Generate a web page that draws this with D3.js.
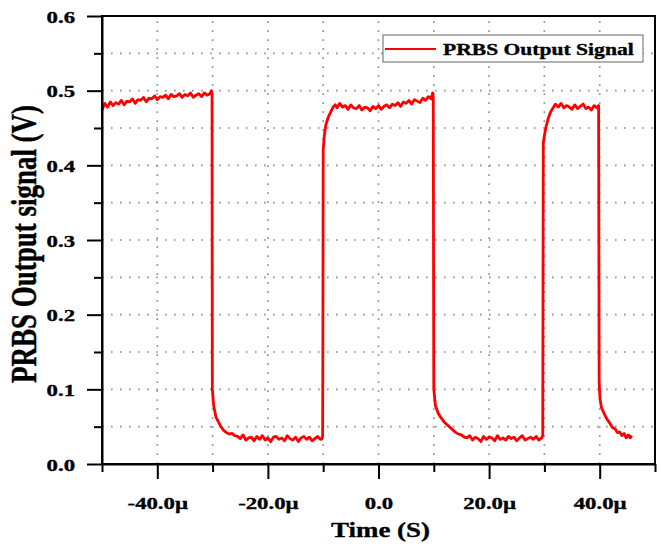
<!DOCTYPE html>
<html>
<head>
<meta charset="utf-8">
<script src="https://cdn.jsdelivr.net/npm/d3@7"></script>
<style>
  body { margin: 0; background: #fff; }
  svg { display: block; }
  text { font-family: "Liberation Serif", "Times New Roman", serif; font-weight: bold; fill: #000; stroke: #000; stroke-width: 0.35px; }
</style>
</head>
<body>
<div id="chart"></div>
<script>
// time in microseconds, signal in volts
var timeUs = [
  -50, -49.5, -49, -48.5, -48, -47.5, -47, -46.5, -46, -45.5, -45, -44.5, -44, -43.5, -43, -42.5, -42, -41.5, -41, -40.5,
  -40, -39.5, -39, -38.5, -38, -37.5, -37, -36.5, -36, -35.5, -35, -34.5, -34, -33.5, -33, -32.5, -32, -31.5, -31, -30.5,
  -30.2, -30.1, -30.05, -29.8, -29.4, -29, -28.5, -28, -27.5, -27, -26.5, -26,
  -25.5, -25, -24.5, -24, -23.5, -23, -22.5, -22, -21.5, -21, -20.5, -20, -19.5, -19, -18.5, -18, -17.5, -17, -16.5, -16,
  -15.5, -15, -14.5, -14, -13.5, -13, -12.5, -12, -11.5, -11, -10.5, -10.2, -10.1,
  -10.05, -10, -9.8, -9.5, -9, -8.6, -8.2, -7.8, -7.5,
  -7, -6.5, -6, -5.5, -5, -4.5, -4, -3.5, -3, -2.5, -2, -1.5, -1, -0.5, 0, 0.5, 1, 1.5, 2, 2.5,
  3, 3.5, 4, 4.5, 5, 5.5, 6, 6.5, 7, 7.5, 8, 8.5, 9, 9.5, 9.8, 9.9,
  10, 10.3, 10.8, 11.3, 11.8, 12.2, 12.8, 13.4, 14, 14.5, 15, 15.5,
  16, 16.5, 17, 17.5, 18, 18.5, 19, 19.5, 20, 20.5, 21, 21.5, 22, 22.5, 23, 23.5, 24, 24.5, 25, 25.5,
  26, 26.5, 27, 27.5, 28, 28.5, 29, 29.5, 29.7,
  29.8, 30, 30.3, 30.7, 31.1, 31.5, 32, 32.5,
  33, 33.5, 34, 34.5, 35, 35.5, 36, 36.5, 37, 37.5, 38, 38.5, 39, 39.5, 39.8,
  39.9, 40.05, 40.3, 40.9, 41.4, 41.8, 42.3, 42.8, 43.2, 43.6, 44, 44.4, 44.8, 45.2, 45.5, 45.8
];
var signalV = [
  0.474, 0.483, 0.478, 0.485, 0.480, 0.484, 0.482, 0.487, 0.481, 0.486, 0.485, 0.489, 0.483, 0.488, 0.487, 0.491, 0.485, 0.490, 0.489, 0.493,
  0.488, 0.492, 0.491, 0.494, 0.489, 0.495, 0.492, 0.493, 0.496, 0.491, 0.495, 0.493, 0.497, 0.491, 0.494, 0.496, 0.492, 0.497, 0.494, 0.496,
  0.500, 0.494, 0.100, 0.078, 0.063, 0.057, 0.050, 0.045, 0.042, 0.040, 0.041, 0.038,
  0.037, 0.034, 0.039, 0.032, 0.035, 0.036, 0.031, 0.037, 0.033, 0.038, 0.032, 0.035, 0.030, 0.036, 0.037, 0.033, 0.035, 0.031, 0.038, 0.034,
  0.032, 0.036, 0.030, 0.035, 0.037, 0.033, 0.036, 0.031, 0.034, 0.037, 0.033, 0.034, 0.038,
  0.200, 0.420, 0.440, 0.455, 0.466, 0.472, 0.478, 0.481, 0.477,
  0.483, 0.478, 0.480, 0.475, 0.481, 0.477, 0.476, 0.480, 0.474, 0.478, 0.477, 0.473, 0.479, 0.476, 0.480, 0.475, 0.479, 0.481, 0.477, 0.482,
  0.480, 0.484, 0.479, 0.485, 0.483, 0.487, 0.482, 0.488, 0.486, 0.484, 0.490, 0.487, 0.492, 0.489, 0.497, 0.491,
  0.100, 0.078, 0.068, 0.062, 0.057, 0.054, 0.050, 0.046, 0.042, 0.040, 0.039, 0.036,
  0.035, 0.038, 0.032, 0.036, 0.034, 0.030, 0.037, 0.033, 0.036, 0.035, 0.031, 0.038, 0.033, 0.035, 0.032, 0.037, 0.034, 0.036, 0.031, 0.035,
  0.038, 0.032, 0.034, 0.036, 0.033, 0.037, 0.032, 0.035, 0.038,
  0.430, 0.440, 0.452, 0.463, 0.471, 0.476, 0.482, 0.478,
  0.483, 0.477, 0.480, 0.478, 0.475, 0.481, 0.476, 0.479, 0.482, 0.476, 0.478, 0.474, 0.480, 0.477, 0.480,
  0.110, 0.088, 0.076, 0.066, 0.059, 0.055, 0.049, 0.047, 0.042, 0.043, 0.038, 0.041, 0.035, 0.039, 0.035, 0.038
];

var xMajorTicks = [-40, -20, 0, 20, 40];
var xTickLabels = ['-40.0\u00b5', '-20.0\u00b5', '0.0', '20.0\u00b5', '40.0\u00b5'];
var xMinorTicks = [-50, -30, -10, 10, 30, 50];
var xGrid = [-40, -30, -20, -10, 0, 10, 20, 30, 40];
var yMajorTicks = [0, 0.1, 0.2, 0.3, 0.4, 0.5, 0.6];
var yTickLabels = ['0.0', '0.1', '0.2', '0.3', '0.4', '0.5', '0.6'];
var yMinorTicks = [0.05, 0.15, 0.25, 0.35, 0.45, 0.55];
var yGrid = [0.05, 0.1, 0.15, 0.2, 0.25, 0.3, 0.35, 0.4, 0.45, 0.5, 0.55];
var seriesName = 'PRBS Output Signal';

var width = 662, height = 544;
var margin = { top: 16, right: 7, bottom: 80, left: 102 };
var stretch = 1.3; // the figure's text is widened horizontally

var svg = d3.select('#chart').append('svg').attr('width', width).attr('height', height);

var x = d3.scaleLinear().domain([-50, 50]).range([margin.left, width - margin.right]);
var y = d3.scaleLinear().domain([0, 0.6]).range([height - margin.bottom, margin.top]);

// dotted grid
var grid = svg.append('g').attr('stroke', '#949494').attr('stroke-width', 1.7).attr('stroke-dasharray', '1.7,7.3');
grid.selectAll('.gx').data(xGrid).join('line').attr('class', 'gx')
  .attr('x1', function (d) { return x(d); }).attr('x2', function (d) { return x(d); })
  .attr('y1', y(0)).attr('y2', y(0.6));
grid.selectAll('.gy').data(yGrid).join('line').attr('class', 'gy')
  .attr('y1', function (d) { return y(d); }).attr('y2', function (d) { return y(d); })
  .attr('x1', x(-50)).attr('x2', x(50));

// signal
var points = timeUs.map(function (t, i) { return [t, signalV[i]]; });
var line = d3.line().x(function (d) { return x(d[0]); }).y(function (d) { return y(d[1]); });
svg.append('path').datum(points)
  .attr('fill', 'none').attr('stroke', '#ff0000').attr('stroke-width', 2.8)
  .attr('stroke-linejoin', 'round').attr('d', line);

// axes
var fmtX = function (d) { return xTickLabels[xMajorTicks.indexOf(d)]; };
var fmtY = function (d) { return yTickLabels[yMajorTicks.indexOf(d)]; };

var xAxis = svg.append('g').attr('transform', 'translate(0,' + y(0) + ')')
  .call(d3.axisBottom(x).tickValues(xMajorTicks).tickFormat(fmtX).tickSize(15).tickSizeOuter(0));
svg.append('g').attr('transform', 'translate(0,' + y(0) + ')')
  .call(d3.axisBottom(x).tickValues(xMinorTicks).tickFormat('').tickSize(8).tickSizeOuter(0))
  .select('.domain').remove();
var yAxis = svg.append('g').attr('transform', 'translate(' + x(-50) + ',0)')
  .call(d3.axisLeft(y).tickValues(yMajorTicks).tickFormat(fmtY).tickSize(15).tickSizeOuter(0));
svg.append('g').attr('transform', 'translate(' + x(-50) + ',0)')
  .call(d3.axisLeft(y).tickValues(yMinorTicks).tickFormat('').tickSize(8).tickSizeOuter(0))
  .select('.domain').remove();

svg.selectAll('.tick line').attr('stroke', '#000').attr('stroke-width', 2);
svg.selectAll('.domain').attr('stroke', '#000').attr('stroke-width', 2);

xAxis.selectAll('.tick text')
  .attr('font-size', 17.5).attr('y', 45).attr('dy', null)
  .attr('transform', 'scale(' + stretch + ',1)');
yAxis.selectAll('.tick text')
  .attr('font-size', 17.5).attr('x', -27 / stretch).attr('dy', '0.35em')
  .attr('transform', 'scale(' + stretch + ',1)');
svg.selectAll('.tick text').attr('font-family', null).attr('fill', '#000');

// frame
svg.append('rect')
  .attr('x', x(-50)).attr('y', y(0.6))
  .attr('width', x(50) - x(-50)).attr('height', y(0) - y(0.6))
  .attr('fill', 'none').attr('stroke', '#000').attr('stroke-width', 2);

// axis titles
svg.append('text')
  .attr('transform', 'translate(' + ((x(-50) + x(50)) / 2 + 2) + ',537) scale(1.25,1)')
  .attr('text-anchor', 'middle').attr('font-size', 21.5)
  .text('Time (S)');
svg.append('text')
  .attr('transform', 'translate(36,' + ((y(0) + y(0.6)) / 2 + 4) + ') rotate(-90) scale(1,' + stretch + ')')
  .attr('text-anchor', 'middle').attr('font-size', 27)
  .text('PRBS Output signal (V)');

// legend
var legend = svg.append('g').attr('transform', 'translate(383,35)');
legend.append('rect').attr('width', 260).attr('height', 27)
  .attr('fill', '#fff').attr('stroke', '#666').attr('stroke-width', 1);
legend.append('line').attr('x1', 2).attr('x2', 53).attr('y1', 14).attr('y2', 14)
  .attr('stroke', '#ff0000').attr('stroke-width', 2);
legend.append('text')
  .attr('transform', 'translate(60,20) scale(1.27,1)')
  .attr('font-size', 17).text(seriesName);
</script>
</body>
</html>
